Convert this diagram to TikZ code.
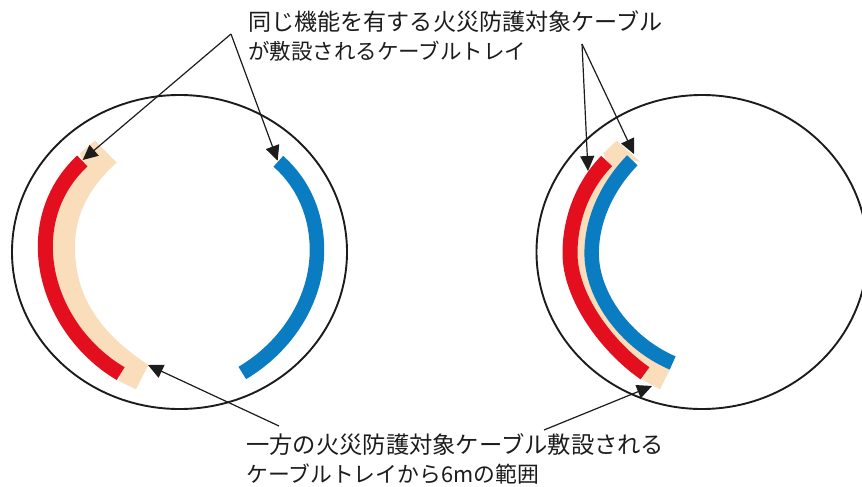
\documentclass[tikz,border=0pt]{standalone}
\usepackage{fontspec}
\setmainfont{Noto Sans CJK JP}
\usetikzlibrary{arrows.meta}
\definecolor{ink}{HTML}{1C1C1C}
\definecolor{trayred}{HTML}{E30F1F}
\definecolor{trayblue}{HTML}{0A7DC2}
\definecolor{zone}{HTML}{FADDBB}
\tikzset{
  room/.style={draw=ink,line width=1.9pt},
  tray/.style={line width=#1,line cap=butt},
  lead/.style={draw=ink,line width=1.2pt,-{Triangle[length=15pt,width=14pt]}},
  caption/.style={anchor=west,inner sep=0pt,text=ink},
  zoomL/.style={shift={(0,90)},x=0.3333pt,y=-0.3333pt},
  zoomR/.style={shift={(520,90)},x=0.3333pt,y=-0.3333pt}
}
\begin{document}
\begin{tikzpicture}[x=1pt,y=-1pt]
\clip (0,0) rectangle (862,487);
\fill[white] (0,0) rectangle (862,487);
% rooms
\draw[room] (179.5,252) ellipse [x radius=167.5,y radius=157];
\draw[room] (702,252) ellipse [x radius=165.5,y radius=157];
% left: 6 m zone and trays
\begin{scope}[zoomL]
\fill[zone] (240,190) -- (285,152) -- (350,218) .. controls (270,290) and (225,370) .. (225,470) .. controls (225,590) and (270,710) .. (445,825) -- (408,898) -- (355,872) -- (362,851) .. controls (225,770) and (136,620) .. (136,470) .. controls (136,370) and (175,280) .. (247,213) -- cycle;
\draw[trayred,tray=15pt] (247,213) .. controls (175,280) and (136,370) .. (136,470) .. controls (136,620) and (225,770) .. (362,851);
\draw[trayblue,tray=14.5pt] (835,214) .. controls (910,280) and (951,375) .. (951,480) .. controls (951,630) and (860,770) .. (727,849);
\end{scope}
% right: 6 m zone and red tray
\begin{scope}[zoomR]
\fill[zone] (250,190) -- (290,152) -- (360,215) -- (337,211) .. controls (265,285) and (215,385) .. (215,490) .. controls (215,620) and (320,760) .. (458,819) -- (450,838) -- (420,898) -- (365,868) -- (375,850) .. controls (260,770) and (150,620) .. (150,490) .. controls (150,385) and (190,285) .. (260,213) -- cycle;
\draw[trayred,tray=15pt] (260,213) .. controls (190,285) and (150,385) .. (150,490) .. controls (150,620) and (260,770) .. (375,850);
\end{scope}
% captions
\node[caption] (top) at (248,37) {\begin{tabular}{@{}l@{}}\fontsize{23.1}{30}\selectfont 同じ機能を有する火災防護対象ケーブル\\[7pt]\fontsize{21.5}{30}\selectfont が敷設されるケーブルトレイ\end{tabular}};
\node[caption] (bottom) at (246,460) {\begin{tabular}{@{}l@{}}\fontsize{23.3}{30}\selectfont 一方の火災防護対象ケーブル敷設される\\[7pt]\fontsize{21.8}{30}\selectfont ケーブルトレイから6mの範囲\end{tabular}};
% connector ends
\coordinate (apexL) at (231,34);
\coordinate (apexR) at (582,44);
\coordinate (footL) at (279,426);
\coordinate (footR) at (544,430);
\coordinate (redL) at (82.7,160);
\coordinate (blueL) at (277.7,160.7);
\coordinate (redR) at (588,171);
\coordinate (blueR) at (634,154);
\coordinate (zoneL) at (148,365);
\coordinate (zoneR) at (652,386);
\draw[lead] (apexL) -- (redL);
\draw[lead] (apexL) -- (blueL);
\draw[lead] (apexR) -- (redR);
\draw[lead] (apexR) -- (blueR);
\draw[lead] (footL) -- (zoneL);
\draw[lead] (footR) -- (zoneR);
% blue tray over the arrowhead
\begin{scope}[zoomR]
\draw[trayblue,tray=14.5pt] (337,211) .. controls (265,285) and (215,385) .. (215,490) .. controls (215,620) and (320,760) .. (458,819);
\end{scope}
\end{tikzpicture}
\end{document}
